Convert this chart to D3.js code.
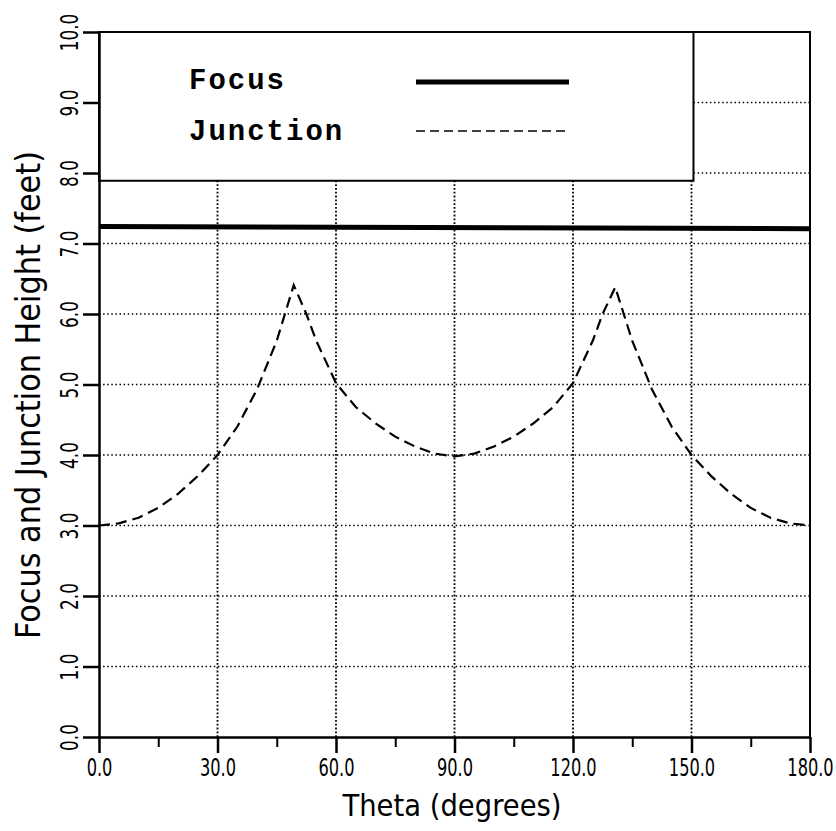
<!DOCTYPE html>
<html>
<head>
<meta charset="utf-8">
<script src="https://cdn.jsdelivr.net/npm/d3@7"></script>
<style>
  body { margin: 0; background: #fff; }
  svg { display: block; }
</style>
</head>
<body>
<svg id="chart"></svg>
<script>
// values
var thetaTicks = [0, 30, 60, 90, 120, 150, 180]
var thetaMinor = [15, 45, 75, 105, 135, 165]
var heightTicks = [0, 1, 2, 3, 4, 5, 6, 7, 8, 9, 10]

var focusTheta = [0, 180]
var focusHeight = [7.24, 7.21]

var junctionTheta = [0, 5, 10, 15, 20, 25, 30, 35, 40, 45, 49.3, 52.5, 55, 60, 65, 70, 75, 80, 85, 90,
                     95, 100, 105, 110, 115, 120, 125, 127.5, 130.7, 135, 140, 145, 150, 155, 160, 165, 170, 175, 180]
var junctionHeight = [3.00, 3.03, 3.11, 3.25, 3.45, 3.70, 4.00, 4.40, 4.93, 5.62, 6.41, 6.00, 5.62, 5.02, 4.68, 4.45, 4.26, 4.12, 4.02, 3.98,
                      4.02, 4.12, 4.26, 4.45, 4.68, 5.02, 5.62, 6.00, 6.38, 5.62, 4.93, 4.40, 4.00, 3.70, 3.45, 3.25, 3.11, 3.03, 3.00]

var legendNames = ["Focus", "Junction"]

var dimensions = {
    width: 836,
    height: 831,
    margin: { top: 32, bottom: 94, right: 26, left: 99 }
}

var svg = d3.select("#chart")
    .attr("width", dimensions.width)
    .attr("height", dimensions.height)

var narrow = "'Liberation Sans Narrow', 'DejaVu Sans Condensed', 'DejaVu Sans', sans-serif"

var xScale = d3.scaleLinear()
    .domain([0, 180])
    .range([dimensions.margin.left, dimensions.width - dimensions.margin.right])

var yScale = d3.scaleLinear()
    .domain([0, 10])
    .range([dimensions.height - dimensions.margin.bottom, dimensions.margin.top])

// dotted grid
var grid = svg.append("g")
grid.selectAll(".hgrid").data(heightTicks.slice(1, -1)).enter().append("line")
    .attr("x1", xScale(0)).attr("x2", xScale(180))
    .attr("y1", d => yScale(d)).attr("y2", d => yScale(d))
    .attr("stroke", "black").attr("stroke-width", 1.4)
    .attr("stroke-dasharray", "1.5,2.6")
grid.selectAll(".vgrid").data(thetaTicks.slice(1, -1)).enter().append("line")
    .attr("x1", d => xScale(d)).attr("x2", d => xScale(d))
    .attr("y1", yScale(0)).attr("y2", yScale(10))
    .attr("stroke", "black").attr("stroke-width", 1.8)
    .attr("stroke-dasharray", "1.8,2")

// frame top and right
svg.append("path")
    .attr("d", "M" + xScale(0) + "," + yScale(10) + "H" + xScale(180) + "V" + yScale(0))
    .attr("fill", "none").attr("stroke", "black").attr("stroke-width", 2)

// series
var line = d3.line().x(d => xScale(d[0])).y(d => yScale(d[1]))

svg.append("path")
    .datum(focusTheta.map((t, i) => [t, focusHeight[i]]))
    .attr("d", line)
    .attr("fill", "none").attr("stroke", "black").attr("stroke-width", 5)

svg.append("path")
    .datum(junctionTheta.map((t, i) => [t, junctionHeight[i]]))
    .attr("d", line)
    .attr("fill", "none").attr("stroke", "black").attr("stroke-width", 2.2)
    .attr("stroke-dasharray", "11,6")

// legend box
svg.append("rect")
    .attr("x", xScale(0)).attr("y", yScale(10))
    .attr("width", xScale(150.5) - xScale(0))
    .attr("height", yScale(7.89) - yScale(10))
    .attr("fill", "white").attr("stroke", "black").attr("stroke-width", 2)

var legend = svg.append("g")
legend.selectAll("text").data(legendNames).enter().append("text")
    .attr("x", 189).attr("y", (d, i) => 89 + i * 51)
    .style("font-family", "'Liberation Mono', 'DejaVu Sans Mono', monospace")
    .style("font-weight", "bold")
    .style("font-size", "29px")
    .style("letter-spacing", "2px")
    .text(d => d)
legend.append("line")
    .attr("x1", 416).attr("x2", 569).attr("y1", 82).attr("y2", 82)
    .attr("stroke", "black").attr("stroke-width", 5)
legend.append("line")
    .attr("x1", 416).attr("x2", 569).attr("y1", 131).attr("y2", 131)
    .attr("stroke", "black").attr("stroke-width", 1.5)
    .attr("stroke-dasharray", "9,5")

// x axis
var xAxis = d3.axisBottom(xScale).tickValues(thetaTicks).tickSize(16).tickSizeOuter(0)
    .tickFormat(d3.format(".1f"))
var gx = svg.append("g")
    .attr("transform", "translate(0," + yScale(0) + ")")
    .call(xAxis)
gx.select(".domain").attr("stroke-width", 2.5)
gx.selectAll(".tick line").attr("stroke-width", 2.5)
gx.selectAll(".tick text")
    .attr("y", 39).attr("dy", null)
    .attr("transform", "scale(0.75,1)")
    .style("font-family", narrow).style("font-size", "24px").attr("fill", "black")

var gxMinor = svg.append("g")
    .attr("transform", "translate(0," + yScale(0) + ")")
    .call(d3.axisBottom(xScale).tickValues(thetaMinor).tickSize(10).tickSizeOuter(0).tickFormat(""))
gxMinor.select(".domain").remove()
gxMinor.selectAll(".tick line").attr("stroke-width", 2)

// y axis
var yAxis = d3.axisLeft(yScale).tickValues(heightTicks).tickSize(16).tickSizeOuter(0)
    .tickFormat(d3.format(".1f"))
var gy = svg.append("g")
    .attr("transform", "translate(" + xScale(0) + ",0)")
    .call(yAxis)
gy.select(".domain").attr("stroke-width", 2.5)
gy.selectAll(".tick line").attr("stroke-width", 2.5)
gy.selectAll(".tick text")
    .attr("transform", "rotate(-90) scale(0.75,1)")
    .attr("x", 0).attr("y", -21).attr("dy", null)
    .attr("text-anchor", "middle")
    .style("font-family", narrow).style("font-size", "25px").attr("fill", "black")

// axis titles
svg.append("text")
    .attr("x", 452).attr("y", 816)
    .attr("text-anchor", "middle")
    .attr("textLength", 219).attr("lengthAdjust", "spacingAndGlyphs")
    .style("font-family", narrow).style("font-size", "30px")
    .text("Theta (degrees)")

svg.append("text")
    .attr("transform", "translate(40,395) rotate(-90)")
    .attr("text-anchor", "middle")
    .attr("textLength", 488).attr("lengthAdjust", "spacingAndGlyphs")
    .style("font-family", narrow).style("font-size", "34px")
    .text("Focus and Junction Height (feet)")
</script>
</body>
</html>
